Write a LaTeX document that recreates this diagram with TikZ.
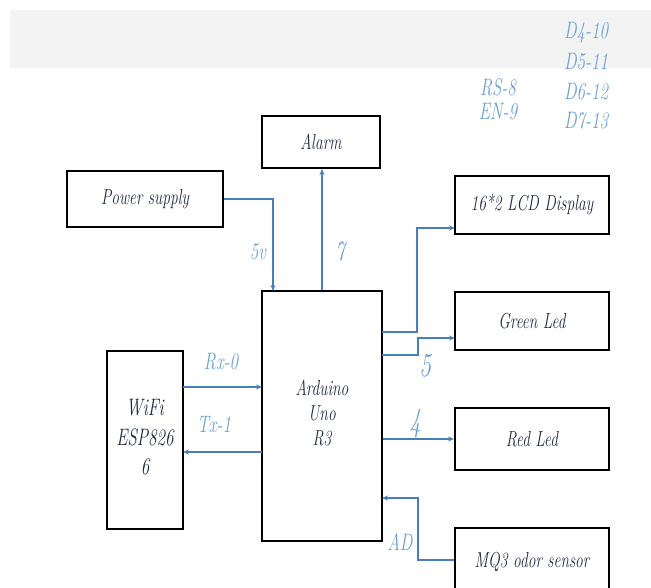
\documentclass[tikz,border=0pt]{standalone}
\usepackage{fontspec}
\usepackage{graphicx}
\usetikzlibrary{arrows.meta,calc}
\definecolor{bandgray}{HTML}{F3F3F3}
\definecolor{wire}{HTML}{4A7EBB}
\definecolor{lbl}{HTML}{6A9FD8}
\definecolor{ink}{HTML}{1F2A44}
\newcommand{\tallt}[1]{\scalebox{1}[1.4]{#1}}
\tikzset{
  box/.style={draw=black, line width=2pt, fill=white, text=ink, font=\itshape\fontsize{15.5}{17}\selectfont, align=center, inner sep=0pt},
  conn/.style={draw=wire, line width=2pt, -{Stealth[length=6pt,width=5pt]}},
  pinlbl/.style={text=lbl, font=\itshape\fontsize{17}{19}\selectfont, inner sep=0pt},
  biglbl/.style={text=lbl, font=\itshape\fontsize{24}{26}\selectfont, inner sep=0pt}
}
\begin{document}
\begin{tikzpicture}[x=1pt,y=-1pt]
\useasboundingbox (0,0) rectangle (651,588);
\clip (0,0) rectangle (651,588);
\fill[bandgray] (10,10) rectangle (651,68);
% boxes
\node[box, minimum width=118pt, minimum height=52pt] (alarm) at (321,142) {\tallt{Alarm}};
\node[box, minimum width=156pt, minimum height=56pt] (power) at (145,199) {\tallt{Power supply}};
\node[box, minimum width=154pt, minimum height=58pt] (lcd) at (532,205) {\tallt{16*2 LCD Display}};
\node[box, minimum width=154pt, minimum height=58pt] (green) at (532,321) {\tallt{Green Led}};
\node[box, minimum width=154pt, minimum height=62pt] (red) at (532,439) {\tallt{Red Led}};
\node[box, minimum width=154pt, minimum height=68pt] (mq3) at (532,562) {\tallt{MQ3 odor sensor}};
\node[box, minimum width=120pt, minimum height=250pt] (ard) at (322,416) {\raisebox{7pt}{\tallt{\begin{tabular}{@{}c@{}}Arduino\\[1pt]Uno\\[1pt]R3\end{tabular}}}};
\node[box, minimum width=76pt, minimum height=178pt, font=\itshape\fontsize{17}{19}\selectfont] (wifi) at (145,440) {\tallt{\begin{tabular}{@{}c@{}}WiFi\\[2pt]ESP826\\[2pt]6\end{tabular}}};
% pin coordinates
\coordinate (p5v) at (273,291);
\coordinate (lcdout) at (382,332);
\coordinate (lcdbend) at (417,332);
\coordinate (lcdin) at (455,228);
\coordinate (grout) at (382,355);
\coordinate (grbend) at (418,355);
\coordinate (grin) at (455,338);
\coordinate (rx) at (183,387);
\coordinate (rxin) at (262,387);
\coordinate (tx) at (262,452);
\coordinate (txin) at (183,452);
\coordinate (adin) at (382,498);
\coordinate (adbend) at (418,560);
% connectors
\draw[conn] (power.east) -| (p5v);
\draw[conn] (ard.north) -- (ard.north |- alarm.south);
\draw[conn] (lcdout) -- (lcdbend) |- (lcdin);
\draw[conn] (grout) -- (grbend) |- (grin);
\draw[conn] (ard.east |- red.west) -- (red.west);
\draw[conn] (mq3.west |- adbend) -- (adbend) |- (adin);
\draw[conn] (rx) -- (rxin);
\draw[conn] (tx) -- (txin);
% labels
\node[pinlbl] (l5v) at (258,252) {\tallt{5v}};
\node[pinlbl, font=\itshape\fontsize{20}{22}\selectfont] (l7) at (340,251) {\tallt{7}};
\node[biglbl] (l5) at (425,366) {\tallt{5}};
\node[biglbl] (l4) at (415,424) {\tallt{4}};
\node[pinlbl] (lad) at (400,542) {\tallt{AD}};
\node[pinlbl] (lrx) at (221,362) {\tallt{Rx-0}};
\node[pinlbl] (ltx) at (214,425) {\tallt{Tx-1}};
\node[pinlbl] (lrs) at (498,87) {\tallt{RS-8}};
\node[pinlbl] (len) at (498,112) {\tallt{EN-9}};
\node[pinlbl] (ld4) at (586,33) {\tallt{D4-10}};
\node[pinlbl] (ld5) at (586,62) {\tallt{D5-11}};
\node[pinlbl] (ld6) at (586,92) {\tallt{D6-12}};
\node[pinlbl] (ld7) at (586,121) {\tallt{D7-13}};
\end{tikzpicture}
\end{document}
